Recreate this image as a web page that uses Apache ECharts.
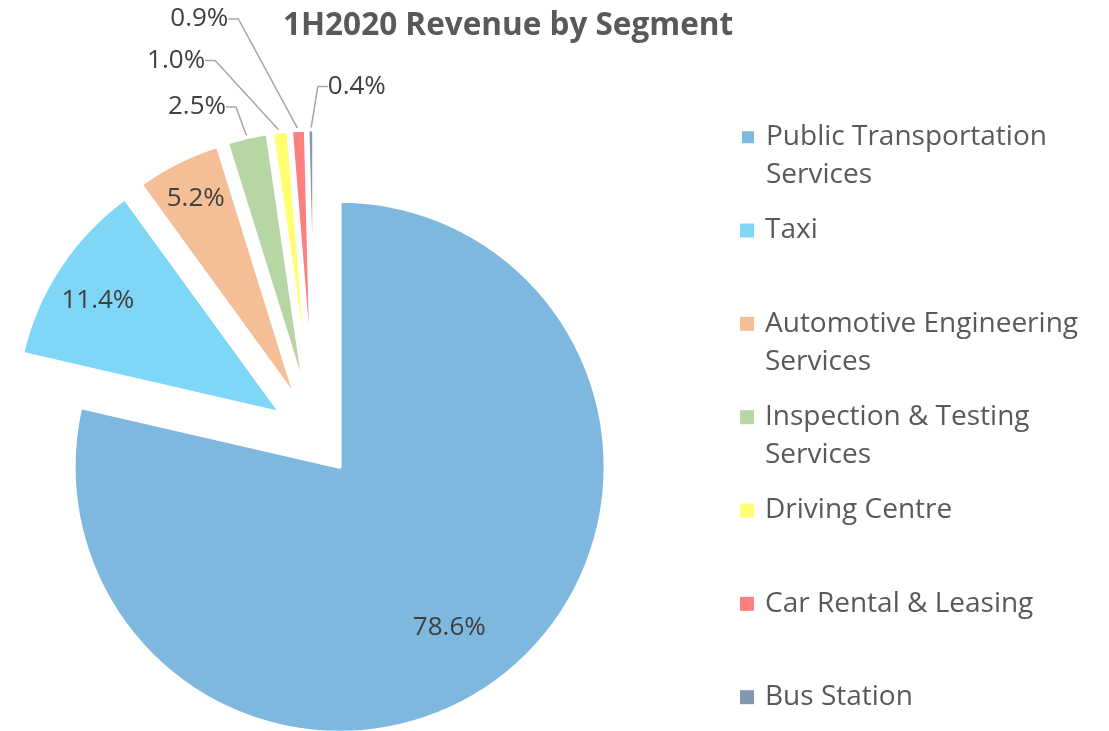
<!DOCTYPE html>
<html>
<head>
<meta charset="utf-8">
<title>1H2020 Revenue by Segment</title>
<script src="https://cdn.jsdelivr.net/npm/echarts@6/dist/echarts.min.js"></script>
<style>
  html, body { margin: 0; padding: 0; background: #fff; }
  #chart { width: 1109px; height: 731px; }
</style>
</head>
<body>
<div id="chart"></div>
<script>
const segments = [
  'Public Transportation Services',
  'Taxi',
  'Automotive Engineering Services',
  'Inspection & Testing Services',
  'Driving Centre',
  'Car Rental & Leasing',
  'Bus Station'
]
const legendText = [
  'Public Transportation\nServices',
  'Taxi',
  'Automotive Engineering\nServices',
  'Inspection & Testing\nServices',
  'Driving Centre',
  'Car Rental & Leasing',
  'Bus Station'
]
const share = [78.6, 11.4, 5.2, 2.5, 1.0, 0.9, 0.4]

const colors = ['#7FB8DE', '#7FD6F7', '#F4BE97', '#B8D6A4', '#FFFF71', '#FF7F7F', '#8497B0']

// pie geometry: every slice is exploded by the same distance
const CX = 314.7, CY = 435.5, R = 266, EXPLODE = 40

// big slices carry their label inside, small ones outside with a leader line
const labelInside = [true, true, true, false, false, false, false]
// inside: shift from echarts' default spot; outside: offset from the leader anchor on the arc
const labelShift = [[25, 54], [-70, -38], [-40, -80], [-21, -30], [-75, -71], [-70, -111], [75, -43]]

const FONT = 'Open Sans'
const LEGEND_LINE = 38

const total = share.reduce((a, b) => a + b, 0)
let run = 0
const midAngle = share.map((v) => {
  const m = (run + v / 2) / total * 2 * Math.PI
  run += v
  return m
})

function sliceSeries(i) {
  const inside = labelInside[i]
  return {
    type: 'pie',
    silent: true,
    center: [CX + EXPLODE * Math.sin(midAngle[i]), CY - EXPLODE * Math.cos(midAngle[i])],
    radius: R,
    startAngle: 90,
    clockwise: true,
    avoidLabelOverlap: false,
    emphasis: { disabled: true },
    label: {
      position: inside ? 'inside' : 'outside',
      formatter: (p) => p.value.toFixed(1) + '%',
      fontFamily: FONT,
      fontSize: 26,
      color: '#404040'
    },
    labelLine: {
      length: 20,
      length2: 10,
      lineStyle: { color: '#A6A6A6', width: 1.5 }
    },
    labelLayout: (p) => {
      if (p.dataIndex !== i) return {}
      const s = labelShift[i]
      if (inside || !p.labelLinePoints) {
        return {
          x: p.labelRect.x + p.labelRect.width / 2 + s[0],
          y: p.labelRect.y + p.labelRect.height / 2 + s[1]
        }
      }
      const a = p.labelLinePoints[0]
      return { x: a[0] + s[0], y: a[1] + s[1] }
    },
    data: share.map((v, j) => ({
      name: segments[j],
      value: v,
      itemStyle: j === i
        ? { color: colors[j], borderColor: '#fff', borderWidth: 4 }
        : { color: 'rgba(0,0,0,0)', borderWidth: 0 },
      label: { show: j === i },
      labelLine: { show: j === i && !inside }
    }))
  }
}

// one legend per entry so every marker sits 93px below the previous one,
// and a wrapped name keeps its marker on the first line (blank line on top centres it there)
function legendItem(i) {
  const twoLine = legendText[i].indexOf('\n') >= 0
  const iconY = 135.7 + i * 93.33
  return {
    orient: 'vertical',
    left: 740,
    top: iconY - 17.5 - (twoLine ? LEGEND_LINE : 0),
    padding: 0,
    icon: 'rect',
    itemWidth: 14,
    itemHeight: 14,
    selectedMode: false,
    formatter: () => (twoLine ? '\n' : '') + legendText[i],
    textStyle: {
      fontFamily: FONT,
      fontSize: 28,
      color: '#595959',
      lineHeight: LEGEND_LINE,
      padding: [0, 0, 0, 6]
    },
    data: [{ name: segments[i], itemStyle: { color: colors[i] } }]
  }
}

const chart = echarts.init(document.getElementById('chart'), null, { renderer: 'canvas' })
chart.setOption({
  backgroundColor: '#fff',
  animation: false,
  title: {
    text: '1H2020 Revenue by Segment',
    left: 283,
    top: 10,
    padding: 0,
    textStyle: { fontFamily: FONT, fontWeight: 'bold', fontSize: 31.5, color: '#595959' }
  },
  legend: segments.map((_, i) => legendItem(i)),
  series: segments.map((_, i) => sliceSeries(i))
})
</script>
</body>
</html>
